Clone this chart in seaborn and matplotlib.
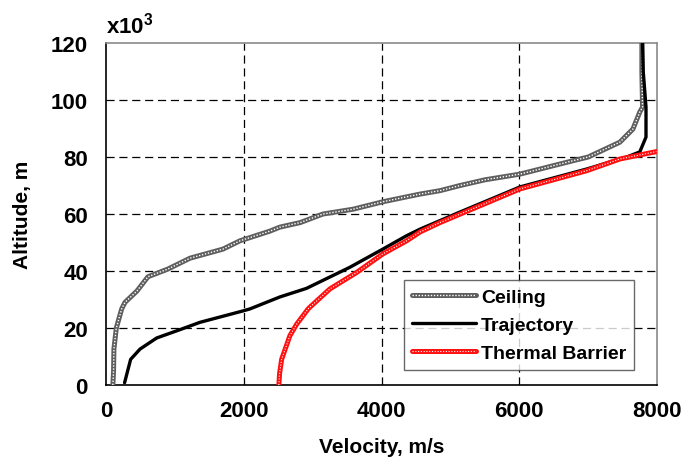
import matplotlib
matplotlib.use("Agg")
import matplotlib.pyplot as plt
import seaborn as sns
import pandas as pd

# ---- data (velocity m/s, altitude x10^3 m) ----
ceiling_v = [100, 110, 115, 150, 228, 276, 450, 610, 900, 1220, 1700, 1945, 2380, 2525,
             2820, 3150, 3590, 4020, 4560, 4850, 5140, 5500, 6010, 6780, 7000, 7460,
             7650, 7750, 7790, 7780, 7780]
ceiling_alt = [0, 5, 12.6, 20, 26.7, 29, 33, 38, 40.7, 44.5, 47.7, 50.6, 54, 55.4,
               57, 60, 61.7, 64.3, 67, 68.2, 70, 72, 74, 78.7, 80, 85.2,
               89.8, 95.8, 97.5, 110, 120]

traj_v = [270, 358, 494, 736, 1026, 1365, 1990, 2090, 2525, 2910, 3540, 4020,
          4365, 4560, 4850, 5100, 6010, 6980, 7560, 7750, 7840, 7840, 7800, 7790]
traj_alt = [0.8, 9, 12.6, 16.5, 19, 22, 26, 26.7, 30.9, 33.9, 41.3, 47.7,
            52.4, 54.7, 57.7, 60.3, 69.5, 75.8, 80, 81.8, 87, 97.5, 110, 120]

thermal_v = [2510, 2520, 2550, 2670, 2770, 2935, 2960, 3250, 3640, 4020, 4365, 4560,
             4850, 6010, 6980, 7460, 7990]
thermal_alt = [0, 4, 9, 17.3, 21.4, 26.7, 27.3, 33.7, 39.5, 46, 50.6, 53.7,
               57, 68.8, 75.2, 79.3, 81.9]

series_names = ["Ceiling", "Trajectory", "Thermal Barrier"]
x_ticks = [0, 2000, 4000, 6000, 8000]
y_ticks = [0, 20, 40, 60, 80, 100, 120]

sns.set_theme(style="white")
plt.rcParams["font.family"] = ["Liberation Sans", "DejaVu Sans"]
plt.rcParams["mathtext.fontset"] = "custom"
plt.rcParams["mathtext.bf"] = "Liberation Sans:bold"
plt.rcParams["mathtext.rm"] = "Liberation Sans:bold"
plt.rcParams["text.color"] = "black"
plt.rcParams["axes.labelcolor"] = "black"
plt.rcParams["xtick.color"] = "black"
plt.rcParams["ytick.color"] = "black"

fig = plt.figure(figsize=(6.9, 4.64), dpi=100)
ax = fig.add_axes([0.1536, 0.1681, 0.7986, 0.737])

df_c = pd.DataFrame({"v": ceiling_v, "alt": ceiling_alt})
df_t = pd.DataFrame({"v": traj_v, "alt": traj_alt})
df_h = pd.DataFrame({"v": thermal_v, "alt": thermal_alt})

# grid
for xv in x_ticks[1:-1]:
    ax.axvline(xv, color="black", lw=0.9, ls=(0, (6.5, 3.8)), zorder=1)
for yv in y_ticks[1:-1]:
    ax.axhline(yv, color="black", lw=0.9, ls=(0, (6.5, 3.8)), zorder=1)

# Ceiling: textured grey line
sns.lineplot(data=df_c, x="v", y="alt", sort=False, estimator=None, ax=ax,
             color="#5e5e5e", lw=3.6, zorder=3)
sns.lineplot(data=df_c, x="v", y="alt", sort=False, estimator=None, ax=ax,
             color="white", lw=1.0, ls=(0, (1, 1.2)), zorder=4)
# Trajectory
sns.lineplot(data=df_t, x="v", y="alt", sort=False, estimator=None, ax=ax,
             color="black", lw=2.4, zorder=5)
# Thermal barrier: textured red line
sns.lineplot(data=df_h, x="v", y="alt", sort=False, estimator=None, ax=ax,
             color="#ff1010", lw=3.6, zorder=6)
sns.lineplot(data=df_h, x="v", y="alt", sort=False, estimator=None, ax=ax,
             color="white", lw=0.8, ls=(0, (1, 1.5)), zorder=7)

lines = ax.get_lines()
data_lines = lines[-5:]
handles = [(data_lines[0], data_lines[1]), data_lines[2], (data_lines[3], data_lines[4])]

ax.set_xlim(0, 8000)
ax.set_ylim(0, 120)
ax.set_xticks(x_ticks)
ax.set_yticks(y_ticks)
ax.tick_params(axis="both", direction="inout", length=8, width=1, color="black",
               labelcolor="black", labelsize=16)
ax.tick_params(axis="y", pad=9)
ax.tick_params(axis="x", pad=7)
for lab in ax.get_xticklabels() + ax.get_yticklabels():
    lab.set_fontweight("bold")

ax.set_xlabel("Velocity, m/s", fontsize=15, fontweight="bold", color="black")
ax.set_ylabel("Altitude, m", fontsize=15, fontweight="bold", color="black")
ax.xaxis.set_label_coords(0.5, -0.181)
ax.xaxis.label.set_va("center")
ax.yaxis.set_label_coords(-0.152, 0.5)
ax.yaxis.label.set_va("center")

for s in ["left", "bottom"]:
    ax.spines[s].set_color("black")
    ax.spines[s].set_linewidth(1.2)
for s in ["top", "right"]:
    ax.spines[s].set_color("#8a8a8a")
    ax.spines[s].set_linewidth(1.2)

leg = ax.legend(handles, series_names, loc="lower right",
                bbox_to_anchor=(0.958, 0.044), borderaxespad=0,
                frameon=True, fancybox=False, edgecolor="#444444",
                prop={"weight": "bold", "size": 14},
                handlelength=3.3, handletextpad=0.25, labelspacing=0.55,
                borderpad=0.4)
leg.get_frame().set_linewidth(1.0)
leg.set_zorder(10)
for t in leg.get_texts():
    t.set_color("black")

fig.text(0.153, 0.927, r"x10$^{\mathbf{3}}$", fontsize=16, fontweight="bold",
         ha="left", va="baseline", color="black")

fig.savefig("out.png", dpi=100)
